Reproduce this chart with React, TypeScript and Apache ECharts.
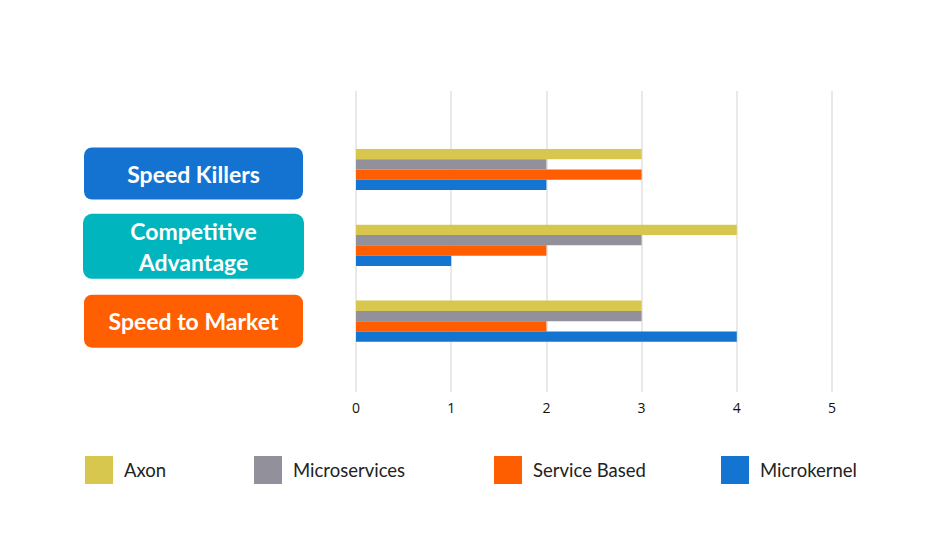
import React, { useEffect, useRef } from "react";
import * as echarts from "echarts";

const categories = ["Speed Killers", "Competitive Advantage", "Speed to Market"];
const seriesNames = ["Axon", "Microservices", "Service Based", "Microkernel"];
const axonValues = [3, 4, 3];
const microservicesValues = [2, 3, 3];
const serviceBasedValues = [3, 2, 2];
const microkernelValues = [2, 1, 4];
const xTicks = [0, 1, 2, 3, 4, 5];

const seriesColors = ["#d8c74f", "#92909a", "#ff5e00", "#1374d2"];
const legendLefts = [85, 254, 494, 721];

export default function App() {
  const ref = useRef<HTMLDivElement>(null);
  useEffect(() => {
    if (!ref.current) return;
    const chart = echarts.init(ref.current, undefined, { renderer: "svg" });
    const values = [axonValues, microservicesValues, serviceBasedValues, microkernelValues];
    const labelBase = {
      color: "#ffffff",
      fontFamily: "Lato",
      fontWeight: "bold" as const,
      fontSize: 23,
      width: 219,
      align: "center" as const,
    };
    chart.setOption({
      animation: false,
      backgroundColor: "#ffffff",
      grid: [
        { left: 356, right: 102, top: 91, bottom: 151 },
        { left: 356, right: 102, top: 131.6, height: 227.5 },
      ],
      xAxis: [
        {
          type: "value",
          gridIndex: 0,
          min: xTicks[0],
          max: xTicks[xTicks.length - 1],
          interval: 1,
          axisLine: { show: false },
          axisTick: { show: false },
          splitLine: { show: true, lineStyle: { color: "#e9e9e9", width: 2 } },
          axisLabel: { color: "#111", fontFamily: "Open Sans", fontSize: 14, margin: 8 },
        },
        {
          type: "value",
          gridIndex: 1,
          min: 0,
          max: 5,
          show: false,
          splitLine: { show: false },
        },
      ],
      yAxis: [
        {
          type: "value",
          gridIndex: 0,
          show: false,
          splitLine: { show: false },
          min: 0,
          max: 1,
        },
        {
          type: "category",
          gridIndex: 1,
          inverse: true,
          data: categories,
          axisLine: { show: false },
          axisTick: { show: false },
          splitLine: { show: false },
          axisLabel: {
            margin: 53,
            formatter: (v: string) => {
              if (v === categories[0]) return `{sp| }\n{sk|${v}}`;
              if (v === categories[1]) {
                const parts = v.split(" ");
                return `{sp2| }\n{cat|${parts[0]}}\n{cab|${parts[1]}}`;
              }
              return `{sm|${v}}`;
            },
            rich: {
              sp: {
                fontSize: 1,
                height: 8,
                lineHeight: 8,
                width: 219,
              },
              sp2: {
                fontSize: 1,
                height: 2,
                lineHeight: 2,
                width: 219,
              },
              sk: {
                ...labelBase,
                backgroundColor: "#1473d0",
                height: 52,
                lineHeight: 52,
                borderRadius: 8,
              },
              cat: {
                ...labelBase,
                backgroundColor: "#00b5bd",
                borderColor: "#00b5bd",
                borderWidth: 1,
                height: 31.5,
                lineHeight: 31.5,
                borderRadius: [8, 8, 0, 0],
              },
              cab: {
                ...labelBase,
                backgroundColor: "#00b5bd",
                borderColor: "#00b5bd",
                borderWidth: 1,
                height: 31.5,
                lineHeight: 31.5,
                borderRadius: [0, 0, 8, 8],
              },
              sm: {
                ...labelBase,
                backgroundColor: "#ff5f00",
                height: 53,
                lineHeight: 53,
                borderRadius: 8,
              },
            },
          },
        },
      ],
      legend: seriesNames.map((name, i) => ({
        data: [name],
        left: legendLefts[i],
        top: 456,
        padding: 0,
        itemWidth: 28,
        itemHeight: 28,
        icon: "rect",
        textStyle: {
          color: "#222",
          fontFamily: "Lato",
          fontSize: 18.5,
          padding: [0, 0, 0, 6],
        },
      })),
      series: seriesNames.map((name, i) => ({
        name,
        type: "bar",
        xAxisIndex: 1,
        yAxisIndex: 1,
        data: values[i],
        barWidth: 10.3,
        barGap: "0%",
        itemStyle: { color: seriesColors[i] },
      })),
    });
    return () => chart.dispose();
  }, []);
  return <div ref={ref} style={{ width: 934, height: 543, position: "absolute", left: 0, top: 0 }} />;
}
